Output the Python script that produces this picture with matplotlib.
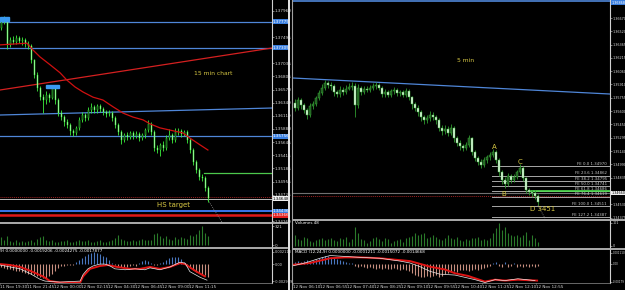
import numpy as np
import matplotlib
matplotlib.use("Agg")
import matplotlib.pyplot as plt
import matplotlib.transforms as mtransforms
from matplotlib.lines import Line2D
from matplotlib.patches import Rectangle

# ---------------- data: left 15-min chart ----------------
left_first_open = 1.3766
left_close = [1.3776, 1.3780, 1.3736, 1.3745, 1.3741, 1.3748, 1.3743, 1.3745, 1.3738, 1.3734,
              1.3709, 1.3683, 1.3660, 1.3644, 1.3639, 1.3648, 1.3643, 1.3660, 1.3639, 1.3616,
              1.3609, 1.3600, 1.3595, 1.3584, 1.3581, 1.3590, 1.3604, 1.3613, 1.3607, 1.3621,
              1.3627, 1.3621, 1.3628, 1.3623, 1.3618, 1.3614, 1.3616, 1.3607, 1.3595, 1.3583,
              1.3569, 1.3577, 1.3574, 1.3581, 1.3576, 1.3579, 1.3572, 1.3577, 1.3586, 1.3597,
              1.3583, 1.3555, 1.3551, 1.3560, 1.3555, 1.3572, 1.3577, 1.3569, 1.3583, 1.3584,
              1.3579, 1.3583, 1.3569, 1.3551, 1.3530, 1.3516, 1.3503, 1.3502, 1.3484, 1.3466]
left_high = [1.3784, 1.3786, 1.3782, 1.3750, 1.3752, 1.3753, 1.3751, 1.3750, 1.3748, 1.3742,
             1.3737, 1.3712, 1.3688, 1.3664, 1.3650, 1.3654, 1.3652, 1.3665, 1.3663, 1.3642,
             1.3621, 1.3613, 1.3606, 1.3599, 1.3588, 1.3594, 1.3609, 1.3618, 1.3617, 1.3626,
             1.3633, 1.3631, 1.3632, 1.3632, 1.3627, 1.3622, 1.3621, 1.3620, 1.3611, 1.3598,
             1.3587, 1.3581, 1.3582, 1.3585, 1.3585, 1.3584, 1.3582, 1.3581, 1.3590, 1.3604,
             1.3600, 1.3586, 1.3560, 1.3564, 1.3566, 1.3577, 1.3588, 1.3581, 1.3590, 1.3589,
             1.3588, 1.3587, 1.3586, 1.3572, 1.3554, 1.3534, 1.3520, 1.3508, 1.3505, 1.3487]
left_low = [1.3762, 1.3772, 1.3728, 1.3733, 1.3737, 1.3738, 1.3739, 1.3736, 1.3733, 1.3728,
            1.3704, 1.3678, 1.3655, 1.3639, 1.3616, 1.3632, 1.3636, 1.3640, 1.3632, 1.3610,
            1.3603, 1.3594, 1.3589, 1.3578, 1.3575, 1.3577, 1.3587, 1.3600, 1.3602, 1.3604,
            1.3617, 1.3616, 1.3617, 1.3618, 1.3613, 1.3609, 1.3610, 1.3602, 1.3589, 1.3577,
            1.3561, 1.3565, 1.3569, 1.3570, 1.3571, 1.3572, 1.3567, 1.3568, 1.3573, 1.3583,
            1.3578, 1.3549, 1.3545, 1.3541, 1.3549, 1.3551, 1.3568, 1.3564, 1.3565, 1.3578,
            1.3574, 1.3575, 1.3564, 1.3546, 1.3525, 1.3510, 1.3498, 1.3496, 1.3478, 1.3460]
left_ma_x = [-0.5, 8.5, 10.5, 12.8, 16.2, 19.5, 21.8, 24.5, 27.2, 30.5, 33.8, 37.2, 40.5,
             43.8, 47.2, 49.5, 52.8, 56.2, 60.5, 62.8, 66.2, 68.8]
left_ma = [1.3736, 1.3739, 1.3727, 1.3715, 1.3701, 1.3687, 1.3674, 1.3662, 1.3653, 1.3644,
           1.3639, 1.3627, 1.3616, 1.3609, 1.3604, 1.3597, 1.3590, 1.3586, 1.3581, 1.3572,
           1.3560, 1.3551]
left_volume = [140, 90, 160, 70, 60, 80, 55, 65, 50, 75,
               85, 60, 110, 130, 150, 90, 70, 85, 60, 55,
               70, 65, 80, 50, 60, 75, 95, 70, 65, 90,
               60, 55, 70, 80, 50, 60, 65, 85, 120, 170,
               110, 80, 65, 70, 85, 75, 90, 100, 80, 95,
               90, 180, 200, 160, 120, 150, 110, 95, 130, 100,
               140, 120, 110, 170, 160, 190, 250, 321, 210, 150]
# MACD values in units of 0.0001
left_hist = [-4.9, -6.5, -8.2, -8.2, -9.8, -11.4, -11.4, -13.0, -14.7, -16.3,
             -17.9, -19.6, -21.2, -22.8, -24.5, -24.5, -21.2, -16.3, -11.4, -6.5,
             -3.3, -3.3, -1.6, -1.6, -1.6, 3.3, 6.5, 9.8, 14.7, 17.9,
             19.6, 21.2, 19.6, 17.9, 14.7, 11.4, 6.5, 1.6, -1.6, -3.3,
             -4.9, -4.9, -4.9, -3.3, -1.6, -3.3, 1.6, 4.9, 6.5, 4.9,
             1.6, -1.6, -1.6, 1.6, 3.3, 6.5, 9.8, 13.0, 13.0, 11.4,
             8.2, 3.3, -3.3, -6.5, -9.8, -13.0, -14.7, -17.9, -19.6, -22.8]
left_white_x = [-0.5, 2.8, 6.2, 9.5, 12.8, 14.5, 19.5, 26.2, 27.2, 28.8, 30.5, 32.8, 34.5,
                36.2, 37.8, 41.2, 44.5, 47.8, 49.5, 52.8, 56.2, 59.5, 61.2, 62.8, 66.2, 68.5]
left_white = [-1.6, -4.9, -8.2, -16.3, -26.1, -29.3, -31.0, -29.3, -17.9, -8.2, -3.3, 0.0, 0.0,
              -3.3, -8.2, -9.8, -8.2, -9.8, -6.5, -9.8, -4.9, 3.3, 1.6, -13.0, -22.8, -27.7]
left_red_x = [-0.5, 2.8, 6.2, 9.5, 13.8, 16.2, 19.5, 26.2, 27.2, 29.5, 32.8, 35.5, 38.5,
              42.8, 46.2, 49.5, 52.8, 56.2, 59.5, 61.2, 64.5, 67.8]
left_red = [0.0, -1.6, -4.9, -11.4, -21.2, -29.3, -31.8, -31.8, -21.2, -8.2, -3.3, -1.6, -4.9,
            -8.2, -8.2, -4.9, -8.2, -4.9, 1.6, 0.0, -11.4, -21.2]
left_price_ticks = ["1.37960", "1.37495", "1.37035", "1.36805", "1.36570",
                    "1.36340", "1.36110", "1.35880", "1.35645", "1.35415", "1.35185", "1.34955",
                    "1.34725", "1.34260"]
left_time_pos = [-0.5, 8.5, 17.5, 26.5, 35.5, 44.5, 53.5, 62.5]
left_time_labels = ["11 Nov 19:30", "11 Nov 21:45", "12 Nov 00:00", "12 Nov 02:15",
                    "12 Nov 04:30", "12 Nov 06:45", "12 Nov 09:00", "12 Nov 11:15"]
left_levels_blue = [1.3777, 1.3731, 1.35756]
left_redline = [(-0.5, 1.36566), (90.17, 1.37305)]
left_blueslope = [(-0.5, 1.36126), (90.17, 1.36249)]
left_green_level = 1.35105
left_dotted_level = 1.34683
left_bid_level = 1.34648
left_target_blue = 1.34436
left_target_red = 1.34366

# ---------------- data: right 5-min chart ----------------
right_first_open = 1.3570
right_close = [1.3564, 1.3573, 1.3567, 1.3562, 1.3556, 1.3566, 1.3568, 1.3575, 1.3581, 1.3587,
               1.3593, 1.3590, 1.3589, 1.3582, 1.3580, 1.3585, 1.3582, 1.3586, 1.3588, 1.3589,
               1.3567, 1.3587, 1.3582, 1.3586, 1.3585, 1.3587, 1.3589, 1.3590, 1.3587, 1.3580,
               1.3582, 1.3579, 1.3583, 1.3585, 1.3581, 1.3582, 1.3579, 1.3583, 1.3576, 1.3568,
               1.3564, 1.3559, 1.3553, 1.3550, 1.3552, 1.3556, 1.3553, 1.3550, 1.3541, 1.3537,
               1.3540, 1.3535, 1.3541, 1.3529, 1.3524, 1.3520, 1.3518, 1.3521, 1.3529, 1.3513,
               1.3506, 1.3502, 1.3498, 1.3504, 1.3507, 1.3510, 1.3513, 1.3504, 1.3490, 1.3481,
               1.3476, 1.3486, 1.3481, 1.3484, 1.3490, 1.3495, 1.3483, 1.3469, 1.3467, 1.3466,
               1.3463, 1.3456]
right_high = [1.3574, 1.3577, 1.3575, 1.3570, 1.3564, 1.3569, 1.3572, 1.3578, 1.3584, 1.3591,
              1.3596, 1.3595, 1.3594, 1.3591, 1.3585, 1.3589, 1.3588, 1.3590, 1.3592, 1.3594,
              1.3592, 1.3591, 1.3589, 1.3589, 1.3589, 1.3590, 1.3593, 1.3594, 1.3593, 1.3589,
              1.3586, 1.3585, 1.3586, 1.3588, 1.3587, 1.3585, 1.3585, 1.3587, 1.3586, 1.3578,
              1.3571, 1.3567, 1.3561, 1.3556, 1.3556, 1.3560, 1.3559, 1.3556, 1.3552, 1.3544,
              1.3544, 1.3543, 1.3545, 1.3543, 1.3532, 1.3527, 1.3523, 1.3525, 1.3533, 1.3531,
              1.3515, 1.3509, 1.3505, 1.3507, 1.3510, 1.3513, 1.3517, 1.3515, 1.3506, 1.3492,
              1.3484, 1.3489, 1.3488, 1.3488, 1.3493, 1.3499, 1.3497, 1.3485, 1.3472, 1.3470,
              1.3469, 1.3465]
right_low = [1.3560, 1.3561, 1.3563, 1.3558, 1.3551, 1.3553, 1.3563, 1.3566, 1.3573, 1.3579,
             1.3585, 1.3587, 1.3585, 1.3578, 1.3576, 1.3577, 1.3579, 1.3580, 1.3584, 1.3585,
             1.3553, 1.3564, 1.3579, 1.3580, 1.3582, 1.3582, 1.3585, 1.3586, 1.3584, 1.3577,
             1.3577, 1.3576, 1.3577, 1.3580, 1.3578, 1.3578, 1.3576, 1.3576, 1.3573, 1.3563,
             1.3560, 1.3555, 1.3549, 1.3546, 1.3547, 1.3549, 1.3550, 1.3546, 1.3537, 1.3533,
             1.3534, 1.3532, 1.3533, 1.3525, 1.3520, 1.3516, 1.3514, 1.3515, 1.3519, 1.3510,
             1.3503, 1.3498, 1.3495, 1.3496, 1.3501, 1.3504, 1.3507, 1.3501, 1.3486, 1.3477,
             1.3472, 1.3474, 1.3478, 1.3479, 1.3482, 1.3488, 1.3480, 1.3466, 1.3464, 1.3462,
             1.3459, 1.3452]
right_volume = [48, 30, 26, 40, 35, 22, 18, 26, 30, 35,
                26, 30, 35, 26, 22, 35, 30, 40, 18, 30,
                83, 57, 30, 26, 13, 22, 35, 40, 30, 22,
                35, 30, 13, 22, 26, 30, 18, 35, 40, 44,
                57, 48, 52, 57, 35, 40, 48, 40, 30, 26,
                35, 48, 35, 30, 40, 26, 22, 30, 26, 35,
                35, 40, 26, 30, 26, 35, 57, 79, 101, 70,
                83, 57, 48, 44, 48, 40, 48, 61, 26, 48,
                35, 18]
right_hist = [1.9, 2.8, 1.9, 2.8, 3.7, 2.8, 3.7, 4.6, 5.6, 6.5, 7.4, 7.4, 6.5, 5.6, 4.6, 3.7,
              2.8, 1.9, 0.9, 0.9,
              -1.9, -2.8, -1.9, -2.8, -3.7, -2.8, -3.7, -4.6, -3.7, -4.6, -3.7, -4.6, -4.6,
              -3.7, -4.6, -5.6, -4.6, -5.6,
              -7.4, -9.3, -11.1, -12.0, -13.0, -13.0, -12.0, -13.0, -12.0, -11.1, -13.0, -12.0,
              -10.2, -9.3, -8.3, -7.4, -8.3,
              -6.5, -5.6, -6.5, -7.4, -5.6, -4.6, -5.6, -4.6, -3.7, -2.8,
              -1.9, 0.9, 1.9, -1.9, -2.8, 1.9, -2.8, -1.9, 0.9, -2.8, -1.9, -2.8, -1.9, -2.8,
              -1.9, -2.8, -1.9]
right_red_x = [-0.7, 5, 11.7, 16.7, 21.7, 28.3, 35, 38.3, 41.7, 45, 50, 53.3, 57.7, 63.3,
               66.7, 70, 74.3, 80.7]
right_red = [-0.9, 0.9, 5.6, 6.5, 6.5, 5.6, 3.7, 2.8, 0.0, -2.8, -5.6, -9.3, -12.0, -17.6,
             -15.7, -16.6, -15.7, -16.6]
right_white_x = [-0.7, 3.3, 8.3, 11.7, 16.7, 21.7, 28.3, 35, 38.3, 41.7, 45, 48.3, 53.3, 60,
                 63.3, 66.7, 70, 74.3, 80]
right_white = [-1.9, 0.9, 5.6, 8.3, 7.4, 6.5, 5.6, 2.8, 0.9, -2.8, -7.4, -10.2, -11.1, -15.7,
               -18.5, -15.7, -16.6, -14.8, -16.6]
right_price_ticks = ["1.36670", "1.36520", "1.36365", "1.36215", "1.36060", "1.35910",
                     "1.35755", "1.35600", "1.35450", "1.35295", "1.35140", "1.34990", "1.34835",
                     "1.34530", "1.34375"]
right_time_pos = [-0.67, 8.3, 17.3, 26.3, 35.3, 44.3, 53.3, 62.3, 71.3, 80.3]
right_time_labels = ["12 Nov 06:10", "12 Nov 06:55", "12 Nov 07:40", "12 Nov 08:25",
                     "12 Nov 09:10", "12 Nov 09:55", "12 Nov 10:40", "12 Nov 11:25",
                     "12 Nov 12:10", "12 Nov 12:55"]
fe_names = ["FE 0.0", "FE 23.6", "FE 38.2", "FE 50.0", "FE 61.8", "FE 76.4", "FE 100.0", "FE 127.2"]
fe_prices = [1.34970, 1.34862, 1.34795, 1.34741, 1.34686, 1.34619, 1.34511, 1.34387]
right_top_level = 1.36868
right_slope = [(-0.67, 1.35983), (105.0, 1.35799)]
right_green_level = 1.34684
right_bid_level = 1.34660
right_dotted_level = 1.34630
abc_labels = ["A", "B", "C", "D 3451"]
abc_pos = [(66.3, 1.3519), (69.7, 1.34649), (75.0, 1.35017), (82.7, 1.34477)]

# ---------------- figure ----------------
W, H = 625, 290
fig = plt.figure(figsize=(W / 100, H / 100), dpi=100, facecolor="black")

YEL = "#d8c844"
BLUE = "#4f86d8"
TICKC = "#d8d8d8"
FS = 3.0
FSR = 2.4


def add_ax(x0, y0, x1, y1, fs):
    ax = fig.add_axes([x0 / W, 1 - y1 / H, (x1 - x0) / W, (y1 - y0) / H])
    ax.set_facecolor("black")
    for s in ax.spines.values():
        s.set_visible(False)
    ax.spines["right"].set_visible(True)
    ax.spines["right"].set_color("#d0d0d0")
    ax.spines["right"].set_linewidth(0.8)
    ax.yaxis.tick_right()
    ax.tick_params(axis="y", colors=TICKC, labelsize=fs, length=1.2, width=0.4, pad=0.6)
    ax.tick_params(axis="x", bottom=False, labelbottom=False)
    return ax


def hl(ax, y, text, fc, tc, fs):
    tr = mtransforms.blended_transform_factory(ax.transAxes, ax.transData)
    ax.text(1.004, y, text, transform=tr, fontsize=fs, color=tc, va="center", ha="left",
            bbox=dict(boxstyle="square,pad=0.12", fc=fc, ec="none"), clip_on=False, zorder=10)


def candles(ax, first_open, c, h, l, wick, bull_face, bear_face, edge):
    c = np.array(c)
    o = np.concatenate([[first_open], c[:-1]])
    idx = np.arange(len(c))
    ax.vlines(idx, l, h, color=wick, lw=0.6, zorder=3)
    up = c >= o
    ax.bar(idx[up], (c - o)[up], bottom=o[up], width=0.62, color=bull_face,
           edgecolor=edge, lw=0.35, zorder=4)
    ax.bar(idx[~up], (o - c)[~up], bottom=c[~up], width=0.62, color=bear_face,
           edgecolor=edge, lw=0.35, zorder=4)


# ---- left main
L_XLIM = (-0.5, 90.17)
axL = add_ax(0, 0, 272, 222, FS)
axL.set_xlim(*L_XLIM)
axL.set_ylim(1.34243, 1.3815)
axL.set_yticks([float(t) for t in left_price_ticks])
axL.set_yticklabels(left_price_ticks)
for lv in left_levels_blue:
    axL.axhline(lv, color=BLUE, lw=0.9, zorder=2)
axL.plot(*zip(*left_redline), color="#d42020", lw=0.9, zorder=2)
axL.plot(*zip(*left_blueslope), color=BLUE, lw=0.9, zorder=2)
axL.plot([67.5, L_XLIM[1]], [left_green_level] * 2, color="#4cc84c", lw=0.9, zorder=2)
axL.axhline(left_dotted_level, color="#9a2020", lw=0.7, ls=(0, (1, 1)), zorder=2)
axL.axhline(left_bid_level, color="#b8b8b8", lw=0.7, zorder=2)
axL.axhline(left_target_blue, color="#3d7fff", lw=1.3, zorder=2)
axL.axhline(left_target_red, color="#e01818", lw=1.8, zorder=2)
axL.plot([68.8, 73.5], [1.3463, 1.3424], color="#909090", lw=0.6, ls=(0, (1, 1.5)), zorder=2)
candles(axL, left_first_open, left_close, left_high, left_low,
        "#3cf03c", "#000000", "#d8ffd8", "#3cf03c")
axL.plot(left_ma_x, left_ma, color="#d01010", lw=0.9, zorder=5)
axL.add_patch(Rectangle((-0.5, 1.3778), 3.0, 0.0007, color="#3a9af0", zorder=6))
axL.add_patch(Rectangle((14.8, 1.3660), 4.4, 0.0005, color="#3a9af0", zorder=6))
axL.text(70.5, 1.36865, "15 min chart", color=YEL, fontsize=4.3, ha="center", va="center")
axL.text(57.5, 1.34542, "HS target", color=YEL, fontsize=5, ha="center", va="center")
hl(axL, 1.3777, "1.37775", "#3a7fe0", "white", FS)
hl(axL, 1.3731, "1.37305", "#3a7fe0", "white", FS)
hl(axL, 1.35756, "1.35756", "#3a7fe0", "white", FS)
hl(axL, left_bid_level, "1.34648", "#f0f0f0", "black", FS)
hl(axL, left_target_blue, "1.34436", "#3a7fe0", "white", FS)
hl(axL, left_target_red, "1.34366", "#e02020", "white", FS)

# ---- left volume
axLv = add_ax(0, 223, 272, 247, FS)
axLv.set_xlim(*L_XLIM)
axLv.set_ylim(-30, 372)
axLv.vlines(np.arange(len(left_volume)), 0, left_volume, color="#2a7a2a", lw=0.8)
axLv.set_yticks([321, 0])
axLv.set_yticklabels(["321", "0"])

# ---- left MACD
axLm = add_ax(0, 248, 272, 283, 2.5)
axLm.set_xlim(*L_XLIM)
axLm.set_ylim(-32.6, 27.7)
lh_arr = np.array(left_hist)
lidx = np.arange(len(left_hist))
axLm.vlines(lidx[lh_arr >= 0], 0, lh_arr[lh_arr >= 0], color="#4a78c0", lw=0.8)
axLm.vlines(lidx[lh_arr < 0], 0, lh_arr[lh_arr < 0], color="#c89080", lw=0.8)
axLm.plot(left_red_x, left_red, color="#e01414", lw=1.4)
axLm.plot(left_white_x, left_white, color="#e8e8e8", lw=0.5)
axLm.set_yticks([21.18, 0, -29.79])
axLm.set_yticklabels(["0.002118", "0.00", "-0.002979"])
axLm.text(0.0, 0.97, "9) 0.0000000 -0.0019206 -0.0024275 -0.0017877", transform=axLm.transAxes,
          color="white", fontsize=FS, ha="left", va="top")
axLm.spines["bottom"].set_visible(True)
axLm.spines["bottom"].set_color("#909090")
axLm.spines["bottom"].set_linewidth(0.5)
axLm.set_xticks(left_time_pos)
axLm.set_xticklabels(left_time_labels, ha="left")
axLm.tick_params(axis="x", bottom=True, labelbottom=True, colors=TICKC, labelsize=3.0,
                 length=1.0, width=0.4, pad=0.3)

# ---- right main
R_XLIM = (-0.67, 105.0)
axR = add_ax(293, 0, 610, 219, FSR)
axR.set_xlim(*R_XLIM)
axR.set_ylim(1.34362, 1.3688)
axR.set_yticks([float(t) for t in right_price_ticks])
axR.set_yticklabels(right_price_ticks)
axR.axhline(right_top_level, color=BLUE, lw=1.2, zorder=2)
axR.plot(*zip(*right_slope), color=BLUE, lw=0.9, zorder=2)
for name, p in zip(fe_names, fe_prices):
    axR.plot([65.8, R_XLIM[1]], [p, p], color="#a8a8a8", lw=0.7, zorder=2)
    axR.text(104.0, p + 0.00002, f"{name} {p:.5f}", color="#c8c8c8", fontsize=2.8,
             ha="right", va="bottom", zorder=6)
axR.axhline(right_bid_level, color="#707070", lw=0.8, zorder=2)
axR.axhline(right_dotted_level, color="#9a2020", lw=0.7, ls=(0, (1, 1)), zorder=2)
axR.plot([78.5, R_XLIM[1]], [right_green_level] * 2, color="#50e050", lw=1.2, zorder=3)
axR.plot([81.0, 83.3], [1.3452, 1.3437], color="#909090", lw=0.6, ls=(0, (1, 1.5)), zorder=2)
candles(axR, right_first_open, right_close, right_high, right_low,
        "#2f9a2f", "#1f5a1f", "#e8ffe8", "#3aa83a")
for lab, (xx, yy) in zip(abc_labels, abc_pos):
    axR.text(xx, yy, lab, color=YEL, fontsize=5, ha="center", va="center", zorder=7)
axR.text(56.7, 1.3619, "5 min", color=YEL, fontsize=4.3, ha="center", va="center")
hl(axR, 1.36850, "1.36868", "#3a7fe0", "white", FSR)
hl(axR, right_bid_level, "1.34660", "#f0f0f0", "black", FSR)

# ---- right volume
axRv = add_ax(293, 220, 610, 248, FSR)
axRv.set_xlim(*R_XLIM)
axRv.set_ylim(-8.8, 114)
axRv.vlines(np.arange(len(right_volume)), 0, right_volume, color="#2a7a2a", lw=0.8)
axRv.set_yticks([101, 0])
axRv.set_yticklabels(["101", "0"])
axRv.text(0.006, 0.95, "Volumes 48", transform=axRv.transAxes, color="white", fontsize=FS,
          ha="left", va="top")

# ---- right MACD
axRm = add_ax(293, 249, 610, 283, 2.0)
axRm.set_xlim(*R_XLIM)
axRm.set_ylim(-19.0, 14.8)
rh_arr = np.array(right_hist)
ridx = np.arange(len(right_hist))
axRm.vlines(ridx[rh_arr >= 0], 0, rh_arr[rh_arr >= 0], color="#4a78c0", lw=0.8)
axRm.vlines(ridx[rh_arr < 0], 0, rh_arr[rh_arr < 0], color="#c89080", lw=0.8)
axRm.plot(right_red_x, right_red, color="#e01414", lw=1.4)
axRm.plot(right_white_x, right_white, color="#e8e8e8", lw=0.5)
axRm.set_yticks([11.1, 0, -17.9])
axRm.set_yticklabels(["0.001110", "0.00", "-0.00179"])
axRm.text(0.006, 0.97, "MACD (12,24,9) 0.0000000 -0.0001211 -0.0015072 -0.0014668",
          transform=axRm.transAxes, color="white", fontsize=FS, ha="left", va="top")
axRm.spines["bottom"].set_visible(True)
axRm.spines["bottom"].set_color("#909090")
axRm.spines["bottom"].set_linewidth(0.5)
axRm.set_xticks(right_time_pos)
axRm.set_xticklabels(right_time_labels, ha="left")
axRm.tick_params(axis="x", bottom=True, labelbottom=True, colors=TICKC, labelsize=3.0,
                 length=1.0, width=0.4, pad=0.3)


# ---- separators / window borders
def hline_px(x0, x1, y, color, lw):
    fig.add_artist(Line2D([x0 / W, x1 / W], [1 - y / H, 1 - y / H], color=color, lw=lw))


def vline_px(x, y0, y1, color, lw):
    fig.add_artist(Line2D([x / W, x / W], [1 - y0 / H, 1 - y1 / H], color=color, lw=lw))


hline_px(0, 287, 222.5, "#b8b8b8", 1.3)
hline_px(0, 287, 247.5, "#b8b8b8", 1.3)
hline_px(293, 625, 219.5, "#b8b8b8", 1.3)
hline_px(293, 625, 248.5, "#b8b8b8", 1.3)
vline_px(288.5, 0, 290, "#e8e8e8", 1.4)
vline_px(292, 0, 290, "#a0a0a0", 0.8)

fig.savefig("out.png", dpi=100, facecolor="black")
